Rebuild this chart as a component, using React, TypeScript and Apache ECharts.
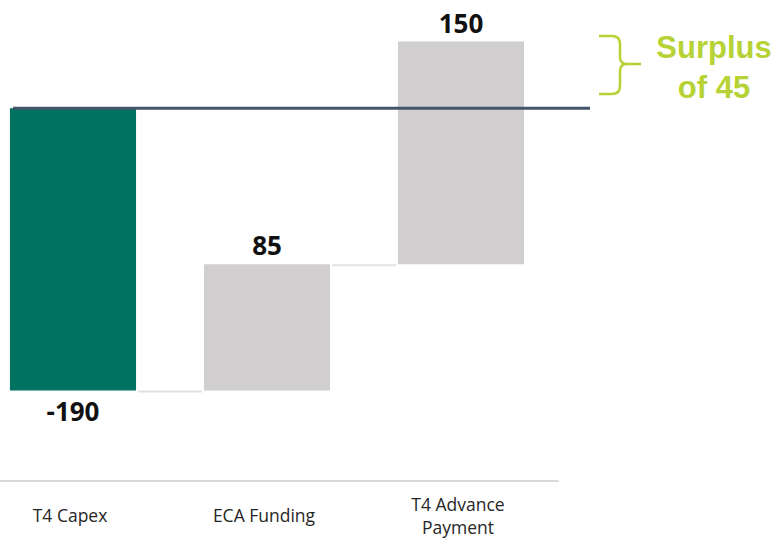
import React, { useEffect, useRef } from "react";
import * as echarts from "echarts";

const categories = ["T4 Capex", "ECA Funding", "T4 Advance\nPayment"];
const changes = [-190, 85, 150];
const barColors = ["#007360", "#d0cece", "#d0cece"];
const surplusLines = ["Surplus", "of 45"];
const yMin = -251;
const yMax = 73;

const SHIFT = 24; // chart div is shifted left so the first band starts off-page

const bracePath =
  "M623,36 L636,36 Q644,36 644,44 L644,57 Q644,64 651,64 L665,64 M651,64 Q644,64 644,71 L644,86 Q644,94 636,94 L623,94";

export default function App() {
  const ref = useRef<HTMLDivElement>(null);

  useEffect(() => {
    if (!ref.current) return;
    echarts.graphic.registerShape("brace", echarts.graphic.extendPath(bracePath, {}));
    const chart = echarts.init(ref.current, undefined, { renderer: "svg" });

    let run = 0;
    const rows = changes.map((d, i) => {
      const start = run;
      run += d;
      return [i, start, run, d];
    });

    const n = categories.length;

    chart.setOption({
      animation: false,
      grid: { left: 0, right: 221, top: 0, bottom: 54 },
      xAxis: {
        type: "category",
        data: categories,
        axisTick: { show: false },
        axisLine: { onZero: false, lineStyle: { color: "#d9d9d9", width: 2 } },
        axisLabel: {
          fontFamily: "Open Sans",
          fontSize: 17.5,
          color: "#262626",
          verticalAlign: "middle",
          lineHeight: 23,
          margin: 34,
          padding: [0, 6, 0, 0],
        },
        splitLine: { show: false },
      },
      yAxis: {
        type: "value",
        min: yMin,
        max: yMax,
        show: false,
        splitLine: { show: false },
      },
      series: [
        {
          type: "custom",
          data: rows,
          encode: { x: 0, y: [1, 2] },
          clip: false,
          renderItem: (params: any, api: any) => {
            const idx = api.value(0);
            const start = api.value(1);
            const end = api.value(2);
            const delta = api.value(3);
            const p0 = api.coord([idx, start]);
            const p1 = api.coord([idx, end]);
            const band = api.size([1, 0])[0];
            const w = band * 0.65;
            const x = p0[0] - w / 2;
            const yTop = Math.min(p0[1], p1[1]);
            const h = Math.abs(p1[1] - p0[1]);
            const children: any[] = [
              {
                type: "rect",
                shape: { x, y: yTop, width: w, height: h },
                style: { fill: barColors[idx] },
              },
              {
                type: "text",
                x: p0[0],
                y: delta < 0 ? yTop + h + 21 : yTop - 19,
                style: {
                  text: String(delta),
                  fontFamily: "Open Sans",
                  fontWeight: "bold",
                  fontSize: 26,
                  fill: "#111111",
                  align: "center",
                  verticalAlign: "middle",
                },
              },
            ];
            if (idx < n - 1) {
              const pn = api.coord([idx + 1, end]);
              children.push({
                type: "line",
                shape: { x1: x + w + 2, y1: p1[1] + 1, x2: pn[0] - w / 2 - 2, y2: p1[1] + 1 },
                style: { stroke: "#e2e2e2", lineWidth: 2 },
              });
            }
            return { type: "group", children };
          },
        },
      ],
    });

    const y0 = chart.convertToPixel({ yAxisIndex: 0 }, 0) as number;

    chart.setOption({
      graphic: [
        {
          type: "line",
          z: 10,
          shape: { x1: 13 + SHIFT, y1: y0, x2: 590 + SHIFT, y2: y0 },
          style: { stroke: "#44546a", lineWidth: 3 },
        },
        {
          type: "brace",
          x: 0,
          y: 0,
          style: { fill: null, stroke: "#b6d234", lineWidth: 2.5 },
        },
        {
          type: "text",
          x: 714 + SHIFT,
          y: 47,
          style: {
            text: surplusLines[0],
            fontFamily: "Liberation Sans",
            fontWeight: "bold",
            fontSize: 31,
            fill: "#b6d234",
            align: "center",
            verticalAlign: "middle",
          },
        },
        {
          type: "text",
          x: 714 + SHIFT,
          y: 87,
          style: {
            text: surplusLines[1],
            fontFamily: "Liberation Sans",
            fontWeight: "bold",
            fontSize: 31,
            fill: "#b6d234",
            align: "center",
            verticalAlign: "middle",
          },
        },
      ],
    });

    return () => chart.dispose();
  }, []);

  return (
    <div
      ref={ref}
      style={{ position: "absolute", left: -SHIFT, top: 0, width: 779 + SHIFT, height: 538 }}
    />
  );
}
